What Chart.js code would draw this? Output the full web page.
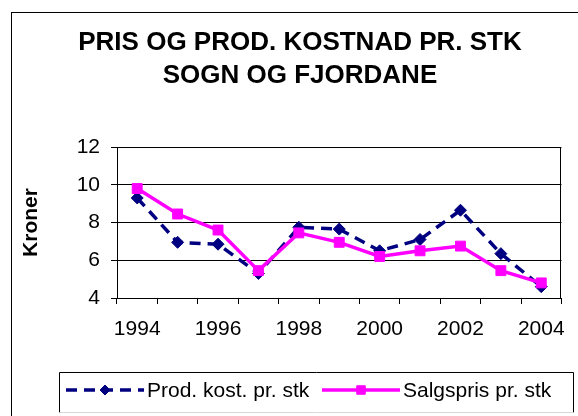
<!DOCTYPE html>
<html>
<head>
<meta charset="utf-8">
<script src="https://cdn.jsdelivr.net/npm/chart.js@4/dist/chart.umd.min.js"></script>
<style>
  html, body { margin: 0; padding: 0; background: #fff; overflow: hidden; }
  #wrap { position: relative; width: 578px; height: 416px; }
  #chart-title {
    position: absolute; left: 0; top: 25px; width: 600px;
    text-align: center; font: bold 26px "Liberation Sans", Arial, sans-serif;
    line-height: 33px; color: #000;
  }
  canvas { position: absolute; left: 0; top: 0; }
</style>
</head>
<body>
<div id="wrap">
  <canvas id="pris-chart" width="578" height="416"></canvas>
  <div id="chart-title">PRIS OG PROD. KOSTNAD PR. STK<br>SOGN OG FJORDANE</div>
</div>
<script>
"use strict";

var years = ["1994", "1995", "1996", "1997", "1998", "1999", "2000", "2001", "2002", "2003", "2004"];
var prod_kost = [9.3, 6.95, 6.85, 5.3, 7.75, 7.65, 6.5, 7.1, 8.65, 6.35, 4.6];
var salgspris = [9.8, 8.45, 7.6, 5.45, 7.45, 6.95, 6.2, 6.5, 6.75, 5.45, 4.8];
var y_ticks = [4, 6, 8, 10, 12];
var series_names = ["Prod. kost. pr. stk", "Salgspris pr. stk"];

var font_family = "'Liberation Sans', Arial, sans-serif";

// outer frame, plot frame and the excel-style legend box
var frames = {
  id: "frames",
  beforeDraw: function(chart) {
    var ctx = chart.ctx;
    ctx.save();
    ctx.strokeStyle = "#000";
    ctx.lineWidth = 1;
    ctx.strokeRect(11.5, 12.5, 700, 600);
    ctx.restore();
  },
  beforeDatasetsDraw: function(chart) {
    var a = chart.chartArea;
    var ctx = chart.ctx;
    ctx.save();
    ctx.strokeStyle = "#000";
    ctx.lineWidth = 1;
    ctx.strokeRect(Math.round(a.left) + 0.5, Math.round(a.top) + 0.5,
                   Math.round(a.right - a.left) - 1, Math.round(a.bottom - a.top));
    ctx.restore();
  },
  afterDraw: function(chart) {
    var ctx = chart.ctx;
    var box = { left: 59.5, top: 372.5, right: 573.5, bottom: 412.5 };
    var mid = 390;
    ctx.save();
    ctx.lineWidth = 1;
    ctx.strokeStyle = "#000";
    ctx.beginPath();
    ctx.moveTo(box.left, box.bottom);
    ctx.lineTo(box.left, box.top);
    ctx.lineTo(box.right, box.top);
    ctx.lineTo(box.right, box.bottom);
    ctx.stroke();
    ctx.strokeStyle = "#d8d8d8";
    ctx.beginPath();
    ctx.moveTo(box.left, box.bottom);
    ctx.lineTo(box.right, box.bottom);
    ctx.stroke();

    var starts = [66, 322];
    chart.data.datasets.forEach(function(ds, i) {
      var x0 = starts[i];
      var x1 = x0 + 78;
      ctx.save();
      ctx.strokeStyle = ds.borderColor;
      ctx.lineWidth = ds.borderWidth;
      ctx.setLineDash(ds.borderDash || []);
      ctx.beginPath();
      ctx.moveTo(x0, mid);
      ctx.lineTo(x1, mid);
      ctx.stroke();
      ctx.restore();
      ctx.save();
      ctx.fillStyle = ds.pointBackgroundColor;
      ctx.strokeStyle = ds.pointBorderColor;
      ctx.lineWidth = 1;
      Chart.helpers.drawPoint(ctx, {
        pointStyle: ds.pointStyle,
        radius: ds.pointRadius - 1,
        rotation: 0,
        borderWidth: 1
      }, (x0 + x1) / 2, mid);
      ctx.restore();
      ctx.fillStyle = "#000";
      ctx.font = "21px " + font_family;
      ctx.textBaseline = "middle";
      ctx.textAlign = "left";
      ctx.fillText(ds.label, x1 + 3, mid + 1);
    });
    ctx.restore();
  }
};

function init_chart(canvas) {
  return new Chart(canvas, {
    type: "line",
    data: {
      labels: years,
      datasets: [
        {
          label: series_names[0],
          data: prod_kost,
          borderColor: "#000080",
          backgroundColor: "#000080",
          borderWidth: 3.5,
          borderDash: [11, 7],
          pointStyle: "rectRot",
          pointRadius: 6,
          pointBackgroundColor: "#000080",
          pointBorderColor: "#000080",
          pointBorderWidth: 1,
          tension: 0,
          fill: false,
          order: 1
        },
        {
          label: series_names[1],
          data: salgspris,
          borderColor: "#ff00ff",
          backgroundColor: "#ff00ff",
          borderWidth: 3.5,
          pointStyle: "rect",
          pointRadius: 7,
          pointBackgroundColor: "#ff00ff",
          pointBorderColor: "#ff00ff",
          pointBorderWidth: 1,
          tension: 0,
          fill: false,
          order: 0
        }
      ]
    },
    options: {
      responsive: false,
      animation: false,
      layout: { padding: { left: 0, right: 6, top: 147, bottom: 68 } },
      plugins: {
        legend: { display: false },
        title: { display: false },
        tooltip: { enabled: false }
      },
      scales: {
        x: {
          offset: true,
          grid: {
            offset: true,
            drawOnChartArea: false,
            drawTicks: true,
            tickLength: 6,
            color: "#000",
            lineWidth: 1
          },
          border: { display: true, color: "#000", width: 1 },
          ticks: {
            autoSkip: false,
            maxRotation: 0,
            padding: 13,
            color: "#000",
            font: { family: font_family, size: 21 },
            callback: function(value, index) {
              return index % 2 === 0 ? this.getLabelForValue(value) : "";
            }
          },
          afterFit: function(scale) { scale.height = 50; }
        },
        y: {
          min: 4,
          max: 12,
          afterBuildTicks: function(scale) {
            scale.ticks = y_ticks.map(function(v) { return { value: v }; });
          },
          grid: {
            color: "#000",
            lineWidth: 1,
            drawTicks: true,
            tickLength: 6,
            tickColor: "#000"
          },
          border: { display: true, color: "#000", width: 1 },
          ticks: {
            padding: 11,
            color: "#000",
            font: { family: font_family, size: 21 }
          },
          title: {
            display: true,
            text: "Kroner",
            color: "#000",
            font: { family: font_family, size: 21, weight: "bold" },
            padding: { top: 19, bottom: 0 }
          },
          afterFit: function(scale) { scale.width = 117; }
        }
      }
    },
    plugins: [frames]
  });
}

init_chart(document.getElementById("pris-chart"));
</script>
</body>
</html>
